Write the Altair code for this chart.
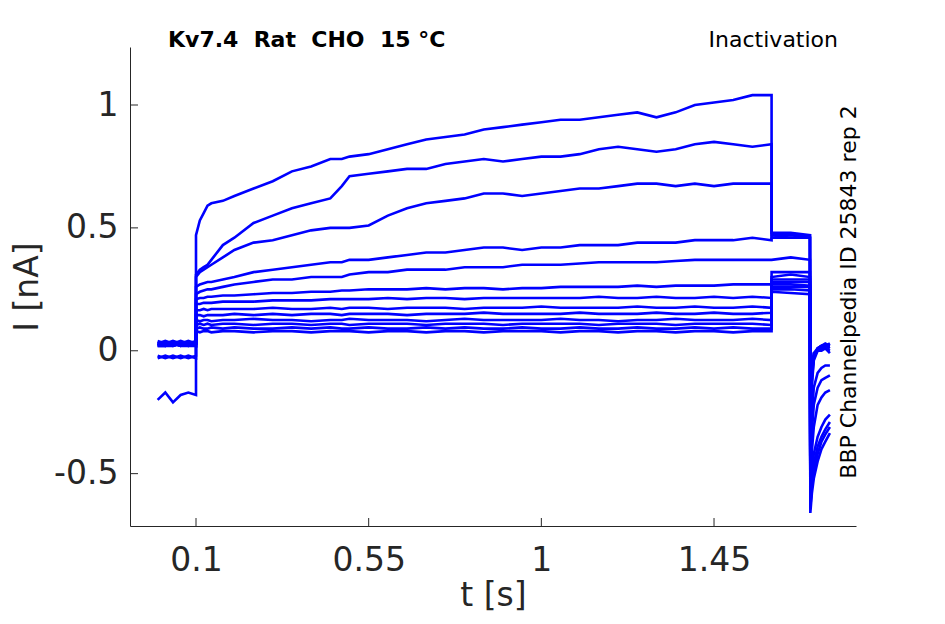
import altair as alt
import pandas as pd

# ---- time grids (s) ----
T_PRE = [0.0, 0.02, 0.04, 0.06, 0.08, 0.1]
T_TEST = [0.1, 0.11, 0.12, 0.13, 0.14, 0.17, 0.2, 0.25, 0.3, 0.35, 0.4, 0.45, 0.48,
          0.5, 0.55, 0.6, 0.65, 0.7, 0.75, 0.8, 0.85, 0.9, 0.95, 1.0, 1.05, 1.1, 1.15,
          1.2, 1.25, 1.3, 1.35, 1.4, 1.45, 1.5, 1.55, 1.6]
T_POST = [1.6, 1.65, 1.7]
T_TAIL = [1.701, 1.705, 1.71, 1.72, 1.73, 1.74, 1.752]

# ---- currents (nA) per trace ----
PRE = [
    [-0.20, -0.17, -0.21, -0.18, -0.17, -0.18],
    [-0.03, -0.02, -0.03, -0.02, -0.03, -0.02],
    [-0.02, -0.03, -0.02, -0.03, -0.02, -0.03],
    [0.03, 0.02, 0.03, 0.03, 0.02, 0.03],
    [0.02, 0.03, 0.02, 0.03, 0.03, 0.02],
    [0.03, 0.03, 0.04, 0.03, 0.03, 0.04],
    [0.02, 0.02, 0.03, 0.02, 0.03, 0.02],
    [0.04, 0.03, 0.03, 0.04, 0.03, 0.03],
    [0.03, 0.02, 0.03, 0.02, 0.02, 0.03],
    [0.02, 0.03, 0.03, 0.02, 0.03, 0.03],
    [0.03, 0.04, 0.03, 0.03, 0.04, 0.03],
    [0.02, 0.02, 0.02, 0.03, 0.02, 0.02],
    [0.03, 0.03, 0.02, 0.03, 0.03, 0.03],
]
TEST = [
    [0.47, 0.53, 0.56, 0.59, 0.60, 0.61, 0.63, 0.66, 0.69, 0.73, 0.75, 0.78, 0.78,
     0.79, 0.80, 0.82, 0.84, 0.86, 0.87, 0.88, 0.90, 0.91, 0.92, 0.93, 0.94, 0.94, 0.95,
     0.96, 0.97, 0.95, 0.97, 1.00, 1.01, 1.02, 1.04, 1.04],
    [0.31, 0.33, 0.34, 0.35, 0.37, 0.43, 0.46, 0.52, 0.55, 0.58, 0.60, 0.62, 0.67,
     0.71, 0.72, 0.73, 0.74, 0.74, 0.76, 0.77, 0.78, 0.77, 0.78, 0.79, 0.79, 0.80, 0.82,
     0.83, 0.82, 0.81, 0.82, 0.84, 0.85, 0.84, 0.83, 0.84],
    [0.30, 0.32, 0.33, 0.34, 0.35, 0.38, 0.41, 0.44, 0.45, 0.47, 0.49, 0.50, 0.50,
     0.50, 0.51, 0.55, 0.58, 0.60, 0.61, 0.62, 0.64, 0.64, 0.63, 0.64, 0.65, 0.66, 0.66,
     0.67, 0.68, 0.68, 0.67, 0.68, 0.67, 0.68, 0.68, 0.68],
    [0.26, 0.27, 0.275, 0.28, 0.28, 0.29, 0.30, 0.32, 0.33, 0.34, 0.35, 0.36, 0.36,
     0.37, 0.37, 0.38, 0.39, 0.40, 0.40, 0.41, 0.42, 0.42, 0.41, 0.42, 0.42, 0.43, 0.43,
     0.43, 0.44, 0.44, 0.44, 0.45, 0.45, 0.45, 0.46, 0.45],
    [0.23, 0.24, 0.245, 0.25, 0.25, 0.26, 0.27, 0.28, 0.29, 0.29, 0.30, 0.30, 0.30,
     0.31, 0.32, 0.32, 0.33, 0.33, 0.33, 0.34, 0.34, 0.34, 0.35, 0.35, 0.35, 0.355, 0.36,
     0.36, 0.36, 0.36, 0.365, 0.37, 0.37, 0.37, 0.37, 0.37],
    [0.21, 0.215, 0.215, 0.22, 0.22, 0.225, 0.225, 0.23, 0.235, 0.235, 0.24, 0.24, 0.245,
     0.245, 0.25, 0.25, 0.25, 0.255, 0.25, 0.255, 0.255, 0.25, 0.255, 0.255, 0.26, 0.26, 0.26,
     0.26, 0.265, 0.26, 0.265, 0.265, 0.265, 0.27, 0.27, 0.27],
    [0.19, 0.19, 0.195, 0.195, 0.195, 0.2, 0.2, 0.2, 0.205, 0.205, 0.205, 0.21, 0.21,
     0.21, 0.21, 0.215, 0.21, 0.215, 0.215, 0.21, 0.215, 0.215, 0.215, 0.215, 0.215, 0.215, 0.22,
     0.215, 0.215, 0.22, 0.215, 0.215, 0.22, 0.215, 0.22, 0.215],
    [0.165, 0.165, 0.17, 0.165, 0.17, 0.17, 0.17, 0.17, 0.175, 0.17, 0.17, 0.175, 0.17,
     0.175, 0.175, 0.17, 0.175, 0.175, 0.175, 0.17, 0.175, 0.175, 0.175, 0.18, 0.175, 0.175, 0.175,
     0.175, 0.18, 0.175, 0.175, 0.18, 0.175, 0.175, 0.18, 0.175],
    [0.145, 0.145, 0.14, 0.145, 0.145, 0.145, 0.15, 0.145, 0.15, 0.145, 0.15, 0.15, 0.145,
     0.15, 0.15, 0.15, 0.145, 0.15, 0.15, 0.15, 0.155, 0.15, 0.15, 0.15, 0.15, 0.155, 0.15,
     0.15, 0.15, 0.155, 0.15, 0.15, 0.155, 0.15, 0.15, 0.155],
    [0.125, 0.12, 0.125, 0.125, 0.12, 0.125, 0.125, 0.13, 0.125, 0.125, 0.12, 0.125, 0.125,
     0.13, 0.125, 0.125, 0.125, 0.12, 0.125, 0.13, 0.125, 0.125, 0.125, 0.125, 0.13, 0.125, 0.125,
     0.12, 0.125, 0.125, 0.13, 0.125, 0.125, 0.125, 0.13, 0.125],
    [0.105, 0.11, 0.105, 0.11, 0.105, 0.11, 0.11, 0.105, 0.11, 0.11, 0.105, 0.11, 0.11,
     0.105, 0.11, 0.11, 0.11, 0.105, 0.11, 0.11, 0.11, 0.105, 0.11, 0.11, 0.11, 0.11, 0.105,
     0.11, 0.11, 0.11, 0.105, 0.11, 0.11, 0.11, 0.11, 0.105],
    [0.09, 0.095, 0.09, 0.09, 0.095, 0.09, 0.095, 0.09, 0.09, 0.095, 0.09, 0.095, 0.09,
     0.09, 0.095, 0.09, 0.09, 0.095, 0.09, 0.095, 0.09, 0.09, 0.095, 0.09, 0.09, 0.095, 0.09,
     0.09, 0.095, 0.09, 0.09, 0.095, 0.09, 0.095, 0.09, 0.09],
    [0.08, 0.075, 0.08, 0.08, 0.075, 0.08, 0.08, 0.075, 0.08, 0.08, 0.075, 0.08, 0.08,
     0.08, 0.075, 0.08, 0.08, 0.075, 0.08, 0.08, 0.075, 0.08, 0.08, 0.08, 0.075, 0.08, 0.08,
     0.075, 0.08, 0.08, 0.075, 0.08, 0.08, 0.075, 0.08, 0.08],
]
POST = [
    [0.48, 0.48, 0.47],
    [0.47, 0.47, 0.47],
    [0.46, 0.47, 0.46],
    [0.46, 0.46, 0.46],
    [0.37, 0.38, 0.37],
    [0.32, 0.32, 0.32],
    [0.30, 0.31, 0.30],
    [0.29, 0.29, 0.29],
    [0.28, 0.28, 0.28],
    [0.27, 0.27, 0.265],
    [0.26, 0.26, 0.26],
    [0.25, 0.25, 0.245],
    [0.24, 0.235, 0.23],
]
TAIL = [
    [-0.66, -0.58, -0.52, -0.45, -0.40, -0.37, -0.335],
    [-0.64, -0.55, -0.49, -0.42, -0.37, -0.34, -0.31],
    [-0.63, -0.53, -0.46, -0.39, -0.35, -0.32, -0.29],
    [-0.62, -0.49, -0.42, -0.35, -0.31, -0.28, -0.26],
    [-0.60, -0.41, -0.31, -0.22, -0.19, -0.17, -0.16],
    [-0.58, -0.33, -0.22, -0.15, -0.12, -0.11, -0.10],
    [-0.56, -0.26, -0.15, -0.09, -0.07, -0.06, -0.06],
    [-0.54, -0.14, -0.04, 0.0, 0.01, 0.02, 0.02],
    [-0.53, -0.12, -0.03, 0.01, 0.02, 0.02, 0.03],
    [-0.52, -0.10, -0.02, 0.01, 0.02, 0.03, 0.02],
    [-0.51, -0.09, -0.02, 0.0, 0.01, 0.01, 0.0],
    [-0.50, -0.08, -0.01, 0.01, 0.02, 0.02, 0.01],
    [-0.49, -0.07, -0.01, 0.0, 0.0, 0.01, -0.01],
]

X_TICKS = [0.1, 0.55, 1, 1.45]
Y_TICKS = [-0.5, 0, 0.5, 1]

TITLE = "Kv7.4\u00a0\u00a0Rat\u00a0\u00a0CHO\u00a0\u00a015 °C"
PROTOCOL = "Inactivation"
SIDE = "BBP Channelpedia ID 25843 rep 2"

rows = []
for k in range(len(TEST)):
    seq = (list(zip(T_PRE, PRE[k])) + list(zip(T_TEST, TEST[k]))
           + list(zip(T_POST, POST[k])) + list(zip(T_TAIL, TAIL[k])))
    for i, (t, v) in enumerate(seq):
        rows.append({"trace": k, "order": i, "t": t, "I": v})
df = pd.DataFrame(rows)

W, H = 726, 479
AX = "#262626"
xscale = alt.Scale(domain=[-0.072, 1.82], nice=False, zero=False)
yscale = alt.Scale(domain=[-0.713, 1.236], nice=False, zero=False)
xaxis = alt.Axis(values=X_TICKS, labelExpr="toString(datum.value)",
                 labelPadding=18, titlePadding=2)
yaxis = alt.Axis(values=Y_TICKS, labelExpr="toString(datum.value)",
                 labelPadding=12, titlePadding=9)

lines = alt.Chart(df).mark_line(color="#0000ff", strokeWidth=2.6).encode(
    x=alt.X("t:Q", scale=xscale, title="t [s]", axis=xaxis),
    y=alt.Y("I:Q", scale=yscale, title="I [nA]", axis=yaxis),
    detail="trace:N",
    order="order:Q",
)

yt = alt.Chart(pd.DataFrame({"I": Y_TICKS})).mark_rule(color=AX, strokeWidth=1).encode(
    y=alt.Y("I:Q", scale=yscale, title="I [nA]", axis=yaxis),
    x=alt.value(0), x2=alt.value(8))
xt = alt.Chart(pd.DataFrame({"t": X_TICKS})).mark_rule(color=AX, strokeWidth=1).encode(
    x=alt.X("t:Q", scale=xscale, title="t [s]", axis=xaxis),
    y=alt.value(H), y2=alt.value(H - 8))

title = alt.Chart(pd.DataFrame({"s": [TITLE]})).mark_text(
    font="DejaVu Sans", fontSize=22, fontWeight="bold", color="black",
    align="left", baseline="alphabetic").encode(
    text="s:N", x=alt.value(38), y=alt.value(0))
proto = alt.Chart(pd.DataFrame({"s": [PROTOCOL]})).mark_text(
    font="DejaVu Sans", fontSize=22, color="black",
    align="right", baseline="alphabetic").encode(
    text="s:N", x=alt.value(708), y=alt.value(0))
side = alt.Chart(pd.DataFrame({"s": [SIDE]})).mark_text(
    font="DejaVu Sans", fontSize=22, color="black", angle=270,
    align="center", baseline="middle").encode(
    text="s:N", x=alt.value(719), y=alt.value(245))

chart = alt.layer(lines, yt, xt, title, proto, side).properties(
    width=W, height=H,
    padding={"left": 122, "top": 39, "right": 70, "bottom": 89},
    autosize=alt.AutoSizeParams(type="none"),
).configure(font="DejaVu Sans").configure_view(stroke=None).configure_axis(
    grid=False, ticks=False, domainColor=AX, domainWidth=1,
    labelFont="DejaVu Sans", labelFontSize=33, labelColor=AX,
    titleFont="DejaVu Sans", titleFontSize=33, titleFontWeight="normal", titleColor=AX,
)

chart.save("out.html", embed_options={"renderer": "svg", "actions": False})
